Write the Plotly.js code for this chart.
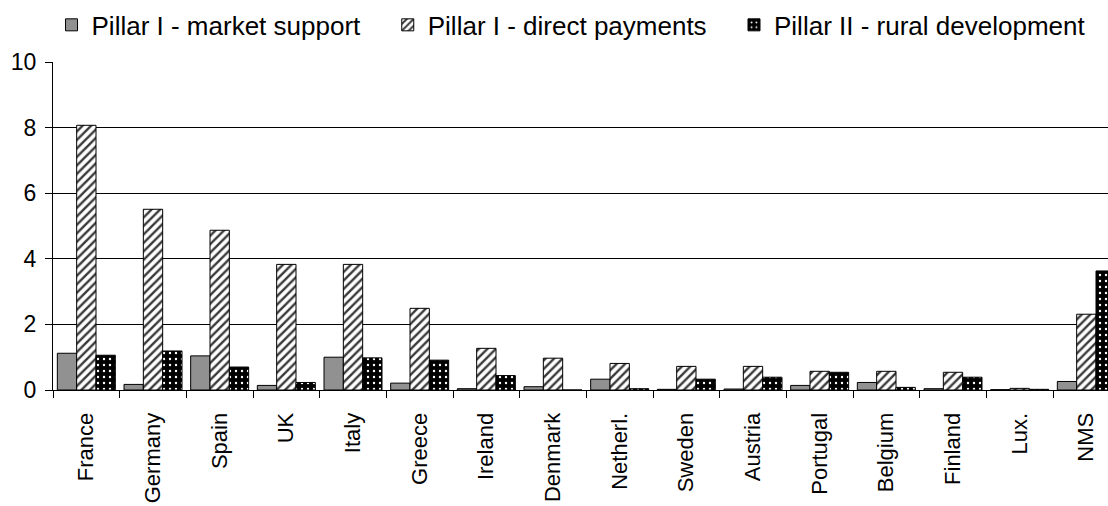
<!DOCTYPE html>
<html>
<head>
<meta charset="utf-8">
<script src="https://cdn.plot.ly/plotly-3.0.1.min.js"></script>
<style>
  html, body { margin: 0; padding: 0; background: #ffffff; }
  #chart { width: 1108px; height: 506px; }
</style>
</head>
<body>
<div id="chart"></div>
<script>
// CAP spending by member state (billion EUR), split by pillar
const countries = ["France", "Germany", "Spain", "UK", "Italy", "Greece", "Ireland", "Denmark",
                   "Netherl.", "Sweden", "Austria", "Portugal", "Belgium", "Finland", "Lux.", "NMS"];
const marketSupport = [1.12, 0.17, 1.04, 0.14, 1.00, 0.21, 0.04, 0.10, 0.33, 0.02, 0.03, 0.14, 0.23, 0.04, 0.01, 0.26];
const directPayments = [8.07, 5.51, 4.87, 3.83, 3.83, 2.49, 1.27, 0.97, 0.81, 0.72, 0.72, 0.57, 0.57, 0.54, 0.05, 2.31];
const ruralDevelopment = [1.06, 1.19, 0.70, 0.23, 0.98, 0.91, 0.44, 0.00, 0.04, 0.33, 0.39, 0.54, 0.08, 0.39, 0.02, 3.63];
const seriesNames = ["Pillar I - market support", "Pillar I - direct payments", "Pillar II - rural development"];
const yTicks = [0, 2, 4, 6, 8, 10];

const FONT = "Liberation Sans, Arial, sans-serif";
const outline = { color: "#000000", width: 1 };

const traces = [
  {
    type: "bar", name: seriesNames[0], x: countries, y: marketSupport, legend: "legend",
    marker: {
      color: "#a8a8a8", line: outline,
      pattern: { shape: ".", fgcolor: "#3c3c3c", bgcolor: "#d4d4d4", size: 2, solidity: 0.5 }
    }
  },
  {
    type: "bar", name: seriesNames[1], x: countries, y: directPayments, legend: "legend2",
    marker: {
      color: "#ffffff", line: outline,
      pattern: { shape: "/", fgcolor: "#3a3a3a", bgcolor: "#ffffff", size: 6, solidity: 0.4 }
    }
  },
  {
    type: "bar", name: seriesNames[2], x: countries, y: ruralDevelopment, legend: "legend3",
    marker: {
      color: "#000000", line: outline,
      pattern: { shape: ".", fgcolor: "#ffffff", bgcolor: "#000000", size: 6, solidity: 0.12 }
    }
  }
];

// three single-entry legends so each entry can sit at its own spot in the top row
const legendBase = {
  orientation: "h", yanchor: "middle", xanchor: "left", y: 1.113,
  bgcolor: "rgba(0,0,0,0)", borderwidth: 0,
  font: { family: FONT, size: 26, color: "#000000" }
};

const layout = {
  width: 1108, height: 506,
  margin: { l: 53, r: 0, t: 62, b: 116, pad: 0 },
  paper_bgcolor: "#ffffff", plot_bgcolor: "#ffffff",
  font: { family: FONT, size: 22, color: "#000000" },
  barmode: "group", bargap: 0.13, bargroupgap: 0,
  showlegend: true,
  legend: Object.assign({}, legendBase, { x: -0.0014 }),
  legend2: Object.assign({}, legendBase, { x: 0.3173 }),
  legend3: Object.assign({}, legendBase, { x: 0.6455 }),
  xaxis: {
    type: "category", range: [-0.5, 15.325], automargin: false,
    tickangle: -90, tickson: "boundaries", ticks: "outside", ticklen: 7, tickcolor: "#000000",
    ticklabelstandoff: 13,
    showline: true, linecolor: "#000000", linewidth: 1, showgrid: false,
    tickfont: { family: FONT, size: 22, color: "#000000" }
  },
  yaxis: {
    range: [0, 10], tickvals: yTicks, ticktext: yTicks.map(String), automargin: false,
    ticks: "outside", ticklen: 7, tickcolor: "#000000", ticklabelstandoff: 4,
    showline: true, linecolor: "#000000", linewidth: 1,
    showgrid: true, gridcolor: "#000000", gridwidth: 1, zeroline: false,
    tickfont: { family: FONT, size: 23, color: "#000000" }
  }
};

Plotly.newPlot("chart", traces, layout, { staticPlot: true, displayModeBar: false });
</script>
</body>
</html>
